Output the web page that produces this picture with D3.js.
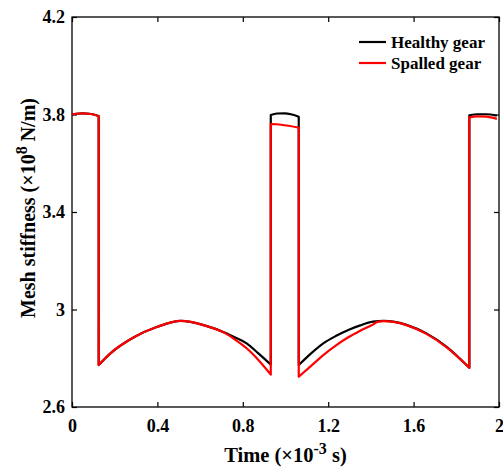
<!DOCTYPE html>
<html><head><meta charset="utf-8">
<script src="https://cdn.jsdelivr.net/npm/d3@7"></script>
<style>body{margin:0;background:#fff}svg{display:block}text{font-family:"Liberation Serif","Times New Roman",serif;font-weight:bold}</style>
</head><body><svg id="c" width="503" height="469"></svg>
<script>
const xTicks=[0,0.4,0.8,1.2,1.6,2];
const yTicks=[2.6,3,3.4,3.8,4.2];
const yTickLabels=["2.6","3","3.4","3.8","4.2"];
const xTickLabels=["0","0.4","0.8","1.2","1.6","2"];
const seriesNames=["Healthy gear","Spalled gear"];
const seriesColors=["#000000","#ff0000"];
const healthyT=[0,0.02,0.05,0.08,0.11,0.125,0.125,0.18,0.29,0.4,0.51,0.62,0.717,0.765,0.818,0.873,0.931,0.931,0.96,0.995,1.03,1.062,1.062,1.12,1.177,1.24,1.294,1.35,1.41,1.46,1.57,1.66,1.755,1.861,1.861,1.9,1.94,1.99];
const healthyK=[3.800,3.803,3.805,3.803,3.798,3.794,2.772,2.820,2.886,2.929,2.953,2.935,2.905,2.885,2.861,2.820,2.774,3.798,3.804,3.805,3.800,3.791,2.772,2.820,2.861,2.893,2.916,2.935,2.950,2.953,2.936,2.902,2.847,2.761,3.797,3.801,3.801,3.795];
const spalledT=[0,0.02,0.05,0.08,0.11,0.125,0.125,0.18,0.29,0.4,0.51,0.62,0.717,0.765,0.818,0.873,0.931,0.931,0.98,1.062,1.062,1.12,1.177,1.24,1.294,1.35,1.411,1.43,1.46,1.57,1.66,1.755,1.861,1.861,1.9,1.94,1.99];
const spalledK=[3.800,3.803,3.805,3.803,3.798,3.794,2.772,2.820,2.886,2.929,2.953,2.935,2.903,2.876,2.841,2.793,2.733,3.761,3.758,3.746,2.724,2.769,2.813,2.855,2.886,2.913,2.939,2.949,2.952,2.935,2.900,2.845,2.761,3.788,3.792,3.791,3.782];

const svg=d3.select("#c");
const L=72,R=499,T=17,B=407;
const x=d3.scaleLinear().domain([0,2]).range([L,R]);
const y=d3.scaleLinear().domain([2.6,4.2]).range([B,T]);

svg.append("rect").attr("x",L).attr("y",T).attr("width",R-L).attr("height",B-T).attr("fill","none").attr("stroke","#000").attr("stroke-width",1.3);

const xa=svg.append("g").attr("transform",`translate(0,${B})`).call(d3.axisBottom(x).tickValues(xTicks).tickSize(-5).tickPadding(12).tickFormat((d,i)=>xTickLabels[i]));
const xt=svg.append("g").attr("transform",`translate(0,${T})`).call(d3.axisTop(x).tickValues(xTicks).tickSize(-5).tickFormat(""));
const ya=svg.append("g").attr("transform",`translate(${L},0)`).call(d3.axisLeft(y).tickValues(yTicks).tickSize(-5).tickPadding(7).tickFormat((d,i)=>yTickLabels[i]));
const yr=svg.append("g").attr("transform",`translate(${R},0)`).call(d3.axisRight(y).tickValues(yTicks).tickSize(-5).tickFormat(""));
[xa,xt,ya,yr].forEach(g=>{g.select(".domain").remove();g.selectAll("line").attr("stroke","#000").attr("stroke-width",1.2);g.selectAll("text").attr("fill","#000").style("font-size","18px").style("font-family","'Liberation Serif',serif").style("font-weight","bold");});

const seg=d3.line().x(d=>x(d[0])).y(d=>y(d[1])).curve(d3.curveMonotoneX);
function pathFor(ts,ks){
  const segs=[];let cur=[];
  ts.forEach((t,i)=>{
    if(i>0&&t===ts[i-1]){segs.push(cur);cur=[];}
    cur.push([t,ks[i]]);
  });
  segs.push(cur);
  return segs.map((s,j)=>{const p=seg(s);return j===0?p:"L"+p.slice(1);}).join("");
}
svg.append("path").attr("d",pathFor(healthyT,healthyK)).attr("fill","none").attr("stroke",seriesColors[0]).attr("stroke-width",2.2).attr("stroke-linejoin","round");
svg.append("path").attr("d",pathFor(spalledT,spalledK)).attr("fill","none").attr("stroke",seriesColors[1]).attr("stroke-width",2.2).attr("stroke-linejoin","round");

seriesNames.forEach((n,i)=>{
  const ly=42+i*21;
  svg.append("line").attr("x1",359).attr("x2",386).attr("y1",ly).attr("y2",ly).attr("stroke",seriesColors[i]).attr("stroke-width",2.2);
  svg.append("text").attr("x",391).attr("y",ly+5.5).attr("font-size",17).attr("fill","#000").text(n);
});

const xl=svg.append("text").attr("x",(L+R)/2).attr("y",461.5).attr("text-anchor","middle").attr("font-size",20.5);
xl.append("tspan").text("Time (×10");
xl.append("tspan").attr("dy",-8).attr("font-size",16).text("-3");
xl.append("tspan").attr("dy",8).text(" s)");
const yl=svg.append("text").attr("transform",`translate(35,208) rotate(-90)`).attr("text-anchor","middle").attr("font-size",20);
yl.append("tspan").text("Mesh stiffness (×10");
yl.append("tspan").attr("dy",-8).attr("font-size",16).text("8");
yl.append("tspan").attr("dy",8).text(" N/m)");
</script></body></html>
